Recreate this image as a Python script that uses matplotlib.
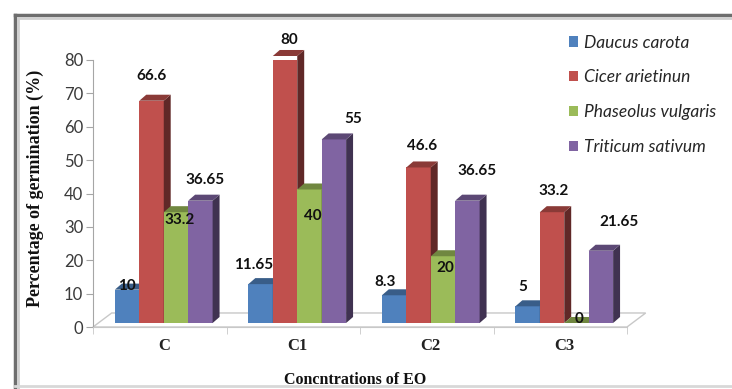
import numpy as np
import matplotlib
matplotlib.use('Agg')
import matplotlib.pyplot as plt
from matplotlib.patches import Polygon, Patch
from matplotlib.lines import Line2D

categories = ['C', 'C1', 'C2', 'C3']
species = ['Daucus carota', 'Cicer arietinun', 'Phaseolus vulgaris', 'Triticum sativum']
daucus = [10, 11.65, 8.3, 5]
cicer = [66.6, 80, 46.6, 33.2]
phaseolus = [33.2, 40, 20, 0]
triticum = [36.65, 55, 36.65, 21.65]
labels_txt = [['10', '11.65', '8.3', '5'],
              ['66.6', '80', '46.6', '33.2'],
              ['33.2', '40', '20', '0'],
              ['36.65', '55', '36.65', '21.65']]
series = [daucus, cicer, phaseolus, triticum]
colors = ['#4F81BD', '#C0504D', '#9BBB59', '#8064A2']

# label offsets in pixels (dx, dy) from the top centre of each bar front
lab_off = [[(0, 4), (-7, 19), (-9, 13), (-5, 19)],
           [(0, 25), (4, 16), (4, 21), (2, 21)],
           [(4, -8), (3, -27), (2, -12), (3, 4)],
           [(5, 21), (19, 20), (10, 30), (18, 29)]]


def shade(c, f):
    rgb = np.array(matplotlib.colors.to_rgb(c))
    return tuple(rgb * f)


fig = plt.figure(figsize=(7.32, 3.89), dpi=100)
ax = fig.add_axes([93 / 732, 62 / 389, 534 / 732, 267 / 389])
ax.set_xlim(-0.5, 3.5)
ax.set_ylim(0, 80)

w = 0.183      # bar width
ddx, ddy = 0.052, 1.8    # bar depth
base = 1.2     # bar base above floor front
shift = 0.03
fdx, fdy = 0.14, 4.2     # floor depth

floor = Polygon([(-0.5, 0), (3.5, 0), (3.5 + fdx, fdy), (-0.5 + fdx, fdy)],
                closed=True, facecolor='white', edgecolor='#c8c8c8', lw=1,
                zorder=1, clip_on=False)
ax.add_patch(floor)

for i, vals in enumerate(series):
    for j, v in enumerate(vals):
        x0 = j + shift + (i - 2) * w
        top = base + v
        z = 3 + i
        ax.bar(x0, v, width=w, bottom=base, align='edge', color=colors[i],
               edgecolor='none', zorder=z)
        side = Polygon([(x0 + w, base), (x0 + w + ddx, base + ddy),
                        (x0 + w + ddx, top + ddy), (x0 + w, top)],
                       closed=True, facecolor=shade(colors[i], 0.5),
                       edgecolor='none', zorder=z, clip_on=False)
        cap = Polygon([(x0, top), (x0 + ddx, top + ddy),
                       (x0 + w + ddx, top + ddy), (x0 + w, top)],
                      closed=True, facecolor=shade(colors[i], 0.72),
                      edgecolor='none', zorder=z, clip_on=False)
        ax.add_patch(side)
        ax.add_patch(cap)
        dx, dy = lab_off[i][j]
        ax.annotate(labels_txt[i][j], (x0 + w / 2, top), xytext=(dx, dy),
                    textcoords='offset pixels', ha='center', va='center',
                    fontsize=11, fontweight='bold', family='Lato',
                    color='#111111', zorder=20, annotation_clip=False)

for s in ['top', 'right']:
    ax.spines[s].set_visible(False)
ax.spines['left'].set_color('#a6a6a6')
ax.spines['bottom'].set_color('#c8c8c8')
ax.set_yticks(np.arange(0, 81, 10))
ax.tick_params(axis='y', colors='#a6a6a6', length=5, labelcolor='#3a3a3a',
               labelsize=12, pad=2)
for t in ax.get_yticklabels():
    t.set_family('Lato')

ax.set_xticks(np.arange(4) + shift)
ax.set_xticklabels(categories, family='Liberation Serif', fontweight='bold',
                   fontsize=12, color='#222222')
ax.set_xticks(np.arange(-0.5, 3.6, 1), minor=True)
ax.tick_params(axis='x', which='major', length=0, pad=8)
ax.tick_params(axis='x', which='minor', length=5, colors='#c8c8c8')
ax.patch.set_alpha(0)

fig.text(35 / 732, 1 - 188 / 389, 'Percentage of germination (%)', rotation=90,
         ha='center', va='center', family='Liberation Serif', fontweight='bold',
         fontsize=13, color='#111111')
fig.text(355 / 732, 1 - 380 / 389, 'Concntrations of EO', ha='center', va='center',
         family='Liberation Serif', fontweight='bold', fontsize=11.5,
         color='#111111')

handles = [Patch(facecolor=c, edgecolor='none') for c in colors]
leg = fig.legend(handles, species, loc='upper left',
                 bbox_to_anchor=(553 / 732, 1 - 19 / 389), frameon=False,
                 prop={'family': 'Lato', 'style': 'italic', 'size': 12.5},
                 handlelength=0.55, handleheight=0.55, handletextpad=0.35,
                 labelspacing=1.08, labelcolor='#262626')

# outer frame of the pasted chart
fig.add_artist(Line2D([15 / 732, 1], [1 - 15 / 389, 1 - 15 / 389],
                      color='#6e6e6e', lw=2.5, transform=fig.transFigure))
fig.add_artist(Line2D([15 / 732, 15 / 732], [0, 1 - 15 / 389],
                      color='#6e6e6e', lw=2.5, transform=fig.transFigure))
fig.add_artist(Line2D([18 / 732, 1], [1 - 18 / 389, 1 - 18 / 389],
                      color='#d0d0d0', lw=2, transform=fig.transFigure))
fig.add_artist(Line2D([18 / 732, 18 / 732], [0, 1 - 18 / 389],
                      color='#d0d0d0', lw=2, transform=fig.transFigure))
fig.add_artist(Line2D([15 / 732, 1], [3 / 389, 3 / 389],
                      color='#d8d8d8', lw=2, transform=fig.transFigure))

fig.savefig('out.png', dpi=100)
